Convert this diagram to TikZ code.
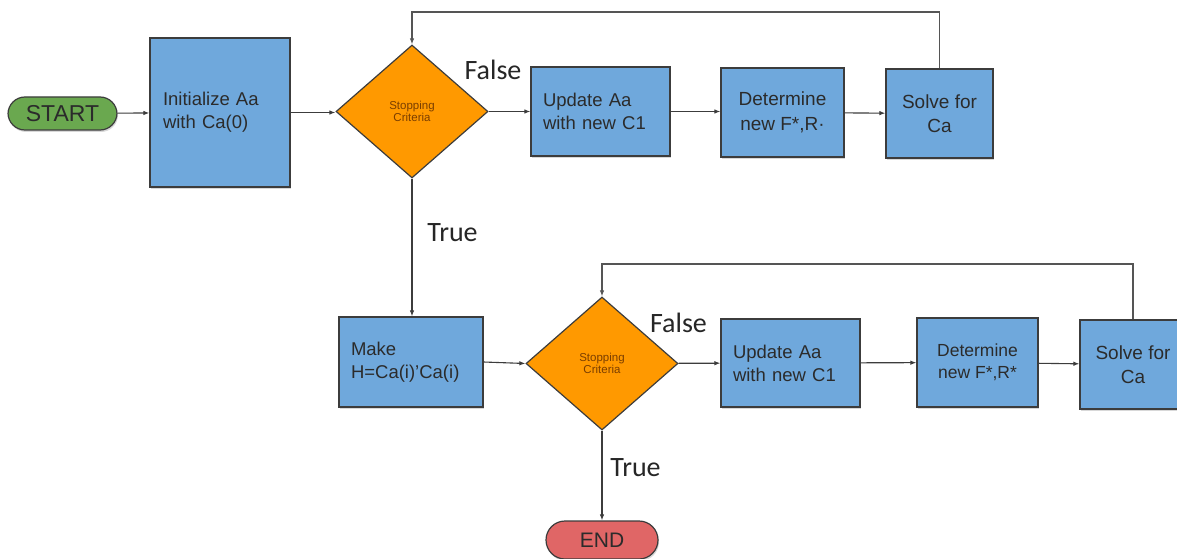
\documentclass[tikz,border=0pt]{standalone}
\usepackage{fontspec}
\setmainfont{Liberation Sans}
\newfontfamily\labfont{Carlito}
\usetikzlibrary{shapes.geometric,arrows.meta,shadows}
\definecolor{boxblue}{HTML}{6FA8DC}
\definecolor{edgegray}{HTML}{3C3C3C}
\definecolor{startgreen}{HTML}{6AA84F}
\definecolor{endred}{HTML}{E06666}
\definecolor{decorange}{HTML}{FF9900}
\definecolor{decotext}{HTML}{7A3E00}
\definecolor{loopgray}{HTML}{555555}
\definecolor{boxtext}{HTML}{2B2B2B}
\tikzset{
  procbox/.style={draw=edgegray, line width=1.2pt, fill=boxblue, inner sep=0pt,
    font=\fontsize{18.5}{23}\selectfont, text=boxtext, align=center,
    drop shadow={shadow xshift=1pt, shadow yshift=-2pt, opacity=0.3}},
  termbox/.style={draw=edgegray, line width=1.2pt, rounded corners=17pt, inner sep=0pt,
    text=boxtext,
    drop shadow={shadow xshift=1pt, shadow yshift=-2pt, opacity=0.3}},
  decision/.style={diamond, draw=edgegray, line width=1.2pt, fill=decorange, inner sep=0pt,
    minimum width=152pt, minimum height=133pt, font=\fontsize{11.5}{12.5}\selectfont,
    text=decotext, align=center},
  flow/.style={draw=edgegray, line width=1.1pt, -{Latex[length=6pt,width=4.5pt]}},
  loopline/.style={draw=loopgray, line width=1.6pt, -{Latex[length=6pt,width=4.5pt]}},
  edgelabel/.style={font=\labfont\fontsize{28}{30}\selectfont, text=black!85, inner sep=0pt}
}
\begin{document}
\begin{tikzpicture}[x=1pt, y=-1pt]
\clip (0,0) rectangle (1177,559);
\fill[white] (0,0) rectangle (1177,559);
% row 1
\node[termbox, fill=startgreen, minimum width=109pt, minimum height=33pt, font=\fontsize{23}{24}\selectfont] (start) at (62.5,113.5) {START};
\node[procbox, minimum width=140pt, minimum height=149pt, text width=114pt, align=left] (init) at (220,112.5) {Initialize Aa\\with Ca(0)};
\node[decision] (d1) at (412,111.5) {Stopping\\Criteria};
\node[procbox, minimum width=139pt, minimum height=89pt, text width=115pt, align=left] (up1) at (600.5,111.5) {Update Aa\\with new C1};
\node[procbox, minimum width=123pt, minimum height=89pt, font=\fontsize{19}{25}\selectfont] (det1) at (782.5,112.5) {Determine\\new F*,R\textperiodcentered};
\node[procbox, minimum width=107pt, minimum height=89pt, font=\fontsize{19}{24}\selectfont] (sol1) at (939.5,113.5) {Solve for\\Ca};
% row 2
\node[procbox, minimum width=144pt, minimum height=90pt, text width=120pt, align=left] (make) at (411,362) {Make\\H=Ca(i)'Ca(i)};
\node[decision] (d2) at (602,363.5) {Stopping\\Criteria};
\node[procbox, minimum width=139pt, minimum height=88pt, text width=115pt, align=left] (up2) at (790.5,363) {Update Aa\\with new C1};
\node[procbox, minimum width=121pt, minimum height=89pt, font=\fontsize{17.5}{22}\selectfont] (det2) at (977.5,362.5) {Determine\\new F*,R*};
\node[procbox, minimum width=106pt, minimum height=89pt, font=\fontsize{19}{24}\selectfont] (sol2) at (1133,364.5) {Solve for\\Ca};
\node[termbox, fill=endred, minimum width=112pt, minimum height=38pt, rounded corners=19pt, font=\fontsize{21}{22}\selectfont] (end) at (602,540) {END};
% coordinates for loops
\coordinate (l1a) at (939.5,12);
\coordinate (l1b) at (412,12);
\coordinate (l2a) at (1133,264);
\coordinate (l2b) at (602,264);
% connectors
\draw[flow] (start) -- (init);
\draw[flow] (init.east) -- (init.east -| d1.west);
\draw[flow] (d1) -- (up1);
\draw[flow] (up1) -- (det1.west |- up1.east);
\draw[flow] (det1) -- (sol1);
\draw[loopline] (sol1.north) -- (l1a) -- (l1b) -- (d1.north);
\draw[flow] (d1.south) -- (d1.south |- make.north);
\draw[flow] (make.east) -- (d2.west);
\draw[flow] (d2) -- (up2);
\draw[flow] (up2) -- (det2);
\draw[flow] (det2) -- (sol2);
\draw[loopline] (sol2.north) -- (l2a) -- (l2b) -- (d2.north);
\draw[flow] (d2.south) -- (end.north);
% labels
\node[edgelabel] (f1) at (493,70) {False};
\node[edgelabel] (t1) at (452.5,233) {True};
\node[edgelabel] (f2) at (678.5,323) {False};
\node[edgelabel] (t2) at (635.5,468) {True};
\end{tikzpicture}
\end{document}
